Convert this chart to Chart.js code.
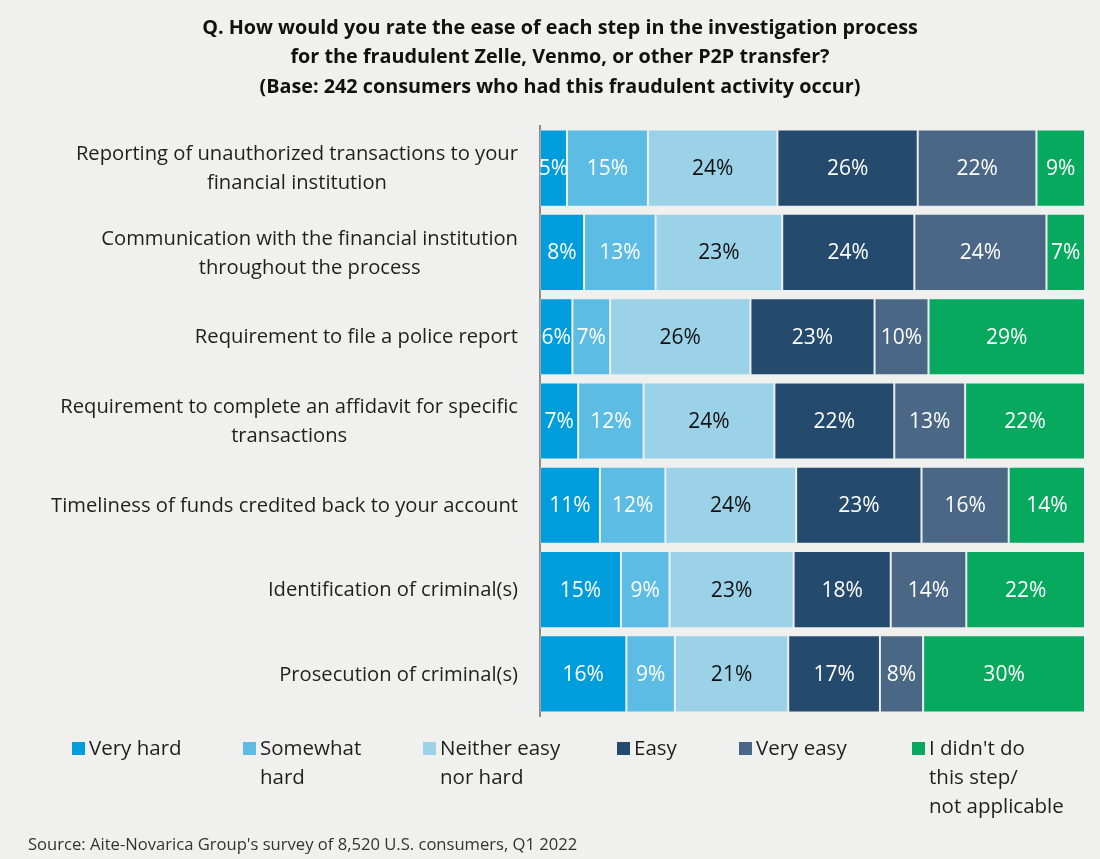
<!DOCTYPE html>
<html>
<head>
<meta charset="utf-8">
<script src="https://cdn.jsdelivr.net/npm/chart.js@4.4.1/dist/chart.umd.min.js"></script>
<style>
  html, body { margin: 0; padding: 0; background: #F0F0EE; }
  #wrap { position: relative; width: 1100px; height: 859px; }
</style>
</head>
<body>
<div id="wrap"><canvas id="chart" width="1100" height="859"></canvas></div>
<script>
// Survey steps (rows, top to bottom)
const categories = [
  ["Reporting of unauthorized transactions to your", "financial institution"],
  ["Communication with the financial institution", "throughout the process"],
  ["Requirement to file a police report"],
  ["Requirement to complete an affidavit for specific", "transactions"],
  ["Timeliness of funds credited back to your account"],
  ["Identification of criminal(s)"],
  ["Prosecution of criminal(s)"]
];

// Response shares (%) per step
const veryHard      = [5, 8, 6, 7, 11, 15, 16];
const somewhatHard  = [15, 13, 7, 12, 12, 9, 9];
const neitherEasy   = [24, 23, 26, 24, 24, 23, 21];
const easy          = [26, 24, 23, 22, 23, 18, 17];
const veryEasy      = [22, 24, 10, 13, 16, 14, 8];
const notApplicable = [9, 7, 29, 22, 14, 22, 30];

const seriesNames = [
  ["Very hard"],
  ["Somewhat", "hard"],
  ["Neither easy", "nor hard"],
  ["Easy"],
  ["Very easy"],
  ["I didn't do", "this step/", "not applicable"]
];

const titleLines = [
  "Q. How would you rate the ease of each step in the investigation process",
  "for the fraudulent Zelle, Venmo, or other P2P transfer?",
  "(Base: 242 consumers who had this fraudulent activity occur)"
];
const sourceText = "Source: Aite-Novarica Group's survey of 8,520 U.S. consumers, Q1 2022";

const seriesValues = [veryHard, somewhatHard, neitherEasy, easy, veryEasy, notApplicable];
const colors = ["#009DDC", "#5DBCE3", "#9BD2E7", "#244A6E", "#4A6886", "#07A95E"];
const labelColors = ["#ffffff", "#ffffff", "#111111", "#ffffff", "#ffffff", "#ffffff"];

// 100% stacked: each row is scaled to its own total
const rowTotals = categories.map((_, i) => seriesValues.reduce((s, arr) => s + arr[i], 0));

const FONT = "'Open Sans', Lato, sans-serif";

const datasets = seriesValues.map((vals, k) => ({
  label: seriesNames[k].join(" "),
  raw: vals,
  data: vals.map((v, i) => v / rowTotals[i] * 100),
  backgroundColor: colors[k],
  borderColor: "rgba(225,238,243,0.3)",
  borderWidth: 1,
  borderSkipped: false,
  categoryPercentage: 1.0,
  barPercentage: 0.915
}));

const decorPlugin = {
  id: "decor",
  beforeDraw(chart) {
    const ctx = chart.ctx;
    ctx.save();
    ctx.fillStyle = "#F0F0EE";
    ctx.fillRect(0, 0, chart.width, chart.height);
    ctx.restore();
  },
  afterDatasetsDraw(chart) {
    const ctx = chart.ctx;
    ctx.save();
    ctx.font = "21px " + FONT;
    ctx.textAlign = "center";
    ctx.textBaseline = "middle";
    chart.data.datasets.forEach((ds, k) => {
      const meta = chart.getDatasetMeta(k);
      meta.data.forEach((bar, i) => {
        const cx = (bar.x + bar.base) / 2;
        ctx.fillStyle = labelColors[k];
        ctx.fillText(ds.raw[i] + "%", cx, bar.y + 1);
      });
    });
    ctx.restore();
  },
  afterDraw(chart) {
    const ctx = chart.ctx;
    const area = chart.chartArea;
    const yScale = chart.scales.y;
    ctx.save();

    // Title
    ctx.fillStyle = "#111111";
    ctx.font = "bold 19.8px " + FONT;
    ctx.textAlign = "center";
    ctx.textBaseline = "middle";
    titleLines.forEach((t, i) => ctx.fillText(t, 560, 28 + i * 29.5));

    // Category labels: right-aligned block, lines centred within it
    ctx.font = "20.2px " + FONT;
    ctx.fillStyle = "#1f1f1f";
    const lineH = 29;
    categories.forEach((lines, i) => {
      const y = yScale.getPixelForValue(i);
      const w = Math.max(...lines.map(l => ctx.measureText(l).width));
      const cx = area.left - 22 - w / 2;
      const y0 = y - (lines.length - 1) * lineH / 2 + 1;
      lines.forEach((l, j) => ctx.fillText(l, cx, y0 + j * lineH));
    });

    // Legend
    const legendX = [72, 243, 423, 617, 739, 912];
    ctx.textAlign = "left";
    ctx.font = "20.5px " + FONT;
    seriesNames.forEach((lines, k) => {
      ctx.fillStyle = colors[k];
      ctx.fillRect(legendX[k], 742, 13, 13);
      ctx.fillStyle = "#1f1f1f";
      lines.forEach((l, j) => ctx.fillText(l, legendX[k] + 17, 749 + j * 29));
    });

    // Source note
    ctx.font = "16.6px " + FONT;
    ctx.fillStyle = "#333333";
    ctx.fillText(sourceText, 28, 845);
    ctx.restore();
  }
};

new Chart(document.getElementById("chart"), {
  type: "bar",
  data: { labels: categories.map(c => c.join(" ")), datasets },
  options: {
    indexAxis: "y",
    responsive: false,
    animation: false,
    layout: { padding: { left: 540, right: 15, top: 126, bottom: 143 } },
    plugins: { legend: { display: false }, tooltip: { enabled: false }, title: { display: false } },
    scales: {
      x: { stacked: true, min: 0, max: 100, display: false },
      y: {
        stacked: true,
        ticks: { display: false },
        grid: { display: false, drawTicks: false },
        border: { display: true, color: "#8c8c8c", width: 2 },
        afterFit(scale) { scale.width = 0; }
      }
    }
  },
  plugins: [decorPlugin]
});
</script>
</body>
</html>
